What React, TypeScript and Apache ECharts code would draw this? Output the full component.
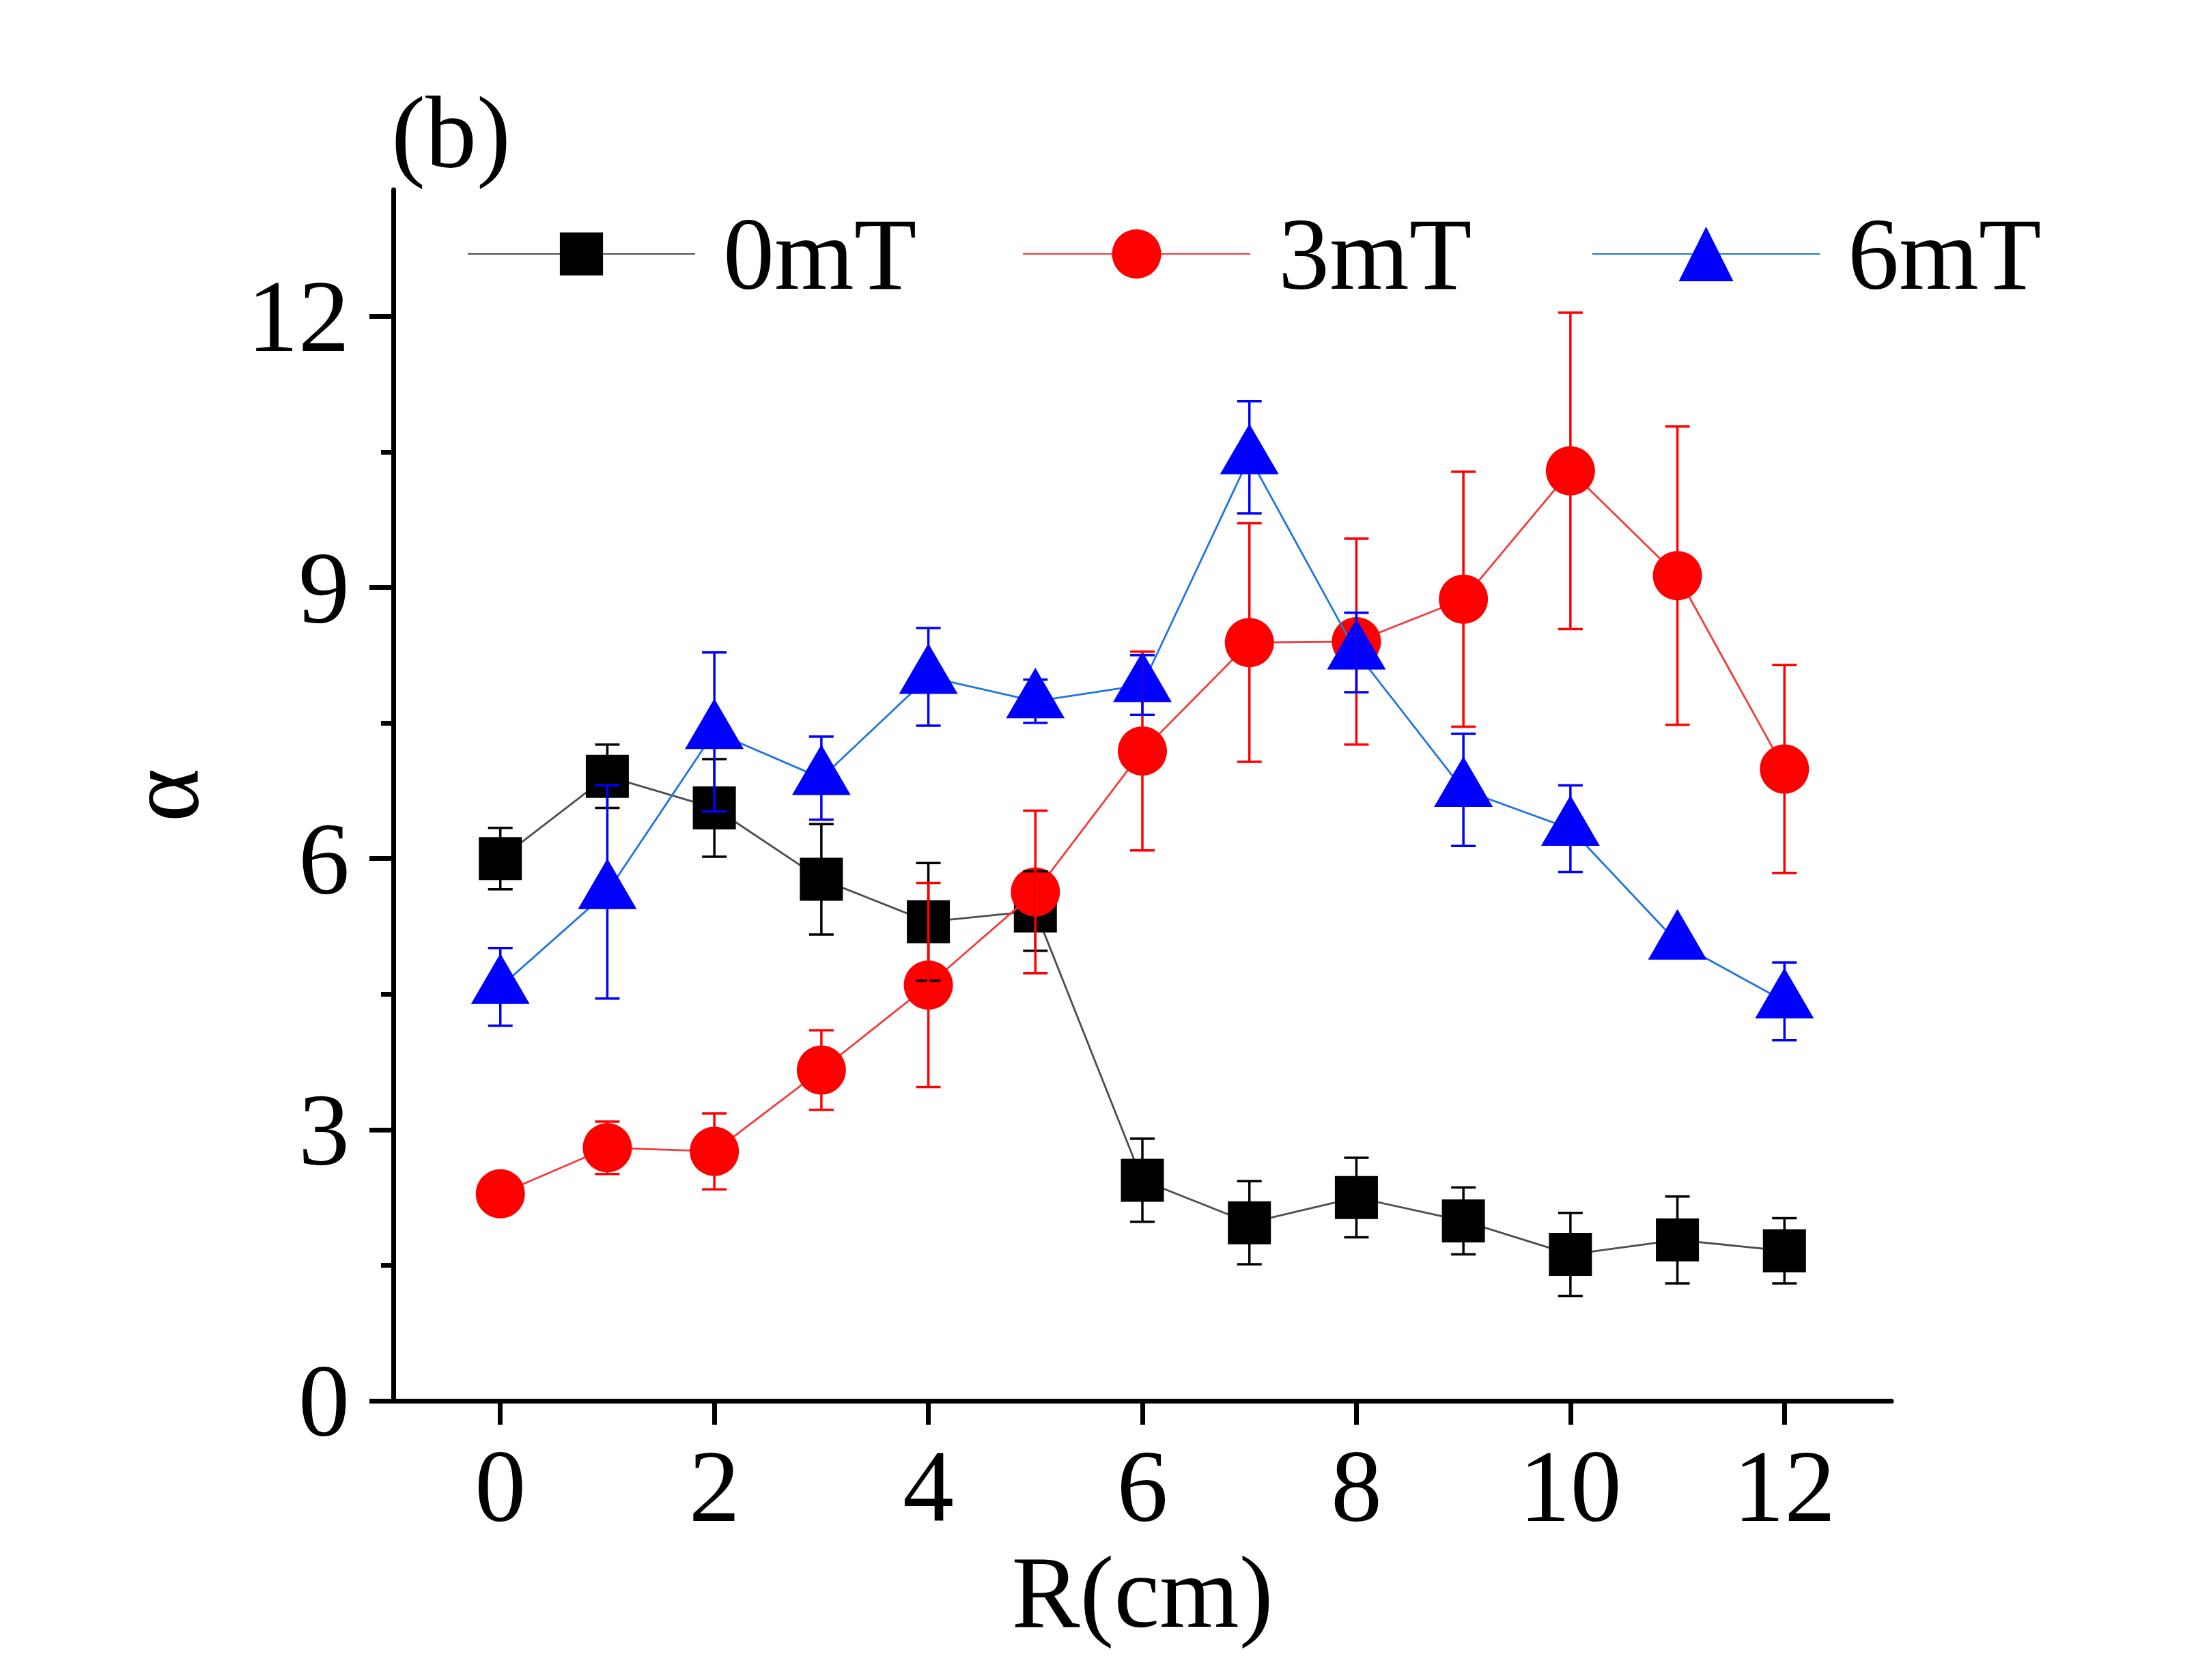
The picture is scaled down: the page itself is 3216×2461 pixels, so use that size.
import React, { useEffect, useRef } from "react";
import * as echarts from "echarts";

const R = [0, 1, 2, 3, 4, 5, 6, 7, 8, 9, 10, 11, 12];
const alpha0 = [6.0, 6.91, 6.56, 5.77, 5.3, 5.42, 2.44, 1.97, 2.25, 1.99, 1.62, 1.78, 1.66];
const err0 = [0.34, 0.35, 0.54, 0.61, 0.65, 0.44, 0.46, 0.46, 0.44, 0.37, 0.46, 0.48, 0.36];
const alpha3 = [2.29, 2.8, 2.76, 3.66, 4.6, 5.63, 7.19, 8.39, 8.4, 8.87, 10.29, 9.13, 6.99];
const err3 = [0, 0.29, 0.42, 0.44, 1.13, 0.9, 1.1, 1.32, 1.14, 1.41, 1.75, 1.65, 1.15];
const alpha6 = [4.58, 5.63, 7.4, 6.89, 8.01, 7.74, 7.92, 10.44, 8.28, 6.76, 6.33, 5.07, 4.42];
const err6 = [0.43, 1.18, 0.88, 0.46, 0.54, 0.24, 0.33, 0.62, 0.44, 0.62, 0.48, 0, 0.43];

const names = ["0mT", "3mT", "6mT"];
const xTicks = [0, 2, 4, 6, 8, 10, 12];
const yTicks = [0, 3, 6, 9, 12];

const FONT = "'Liberation Serif', 'Times New Roman', serif";

function errSeries(name: string, values: number[], errs: number[], color: string) {
  return {
    type: "custom",
    name,
    z: 10,
    silent: true,
    encode: { x: 0, y: 1 },
    data: R.map((x, i) => [x, values[i], errs[i]]),
    renderItem: (params: any, api: any) => {
      const x = api.value(0);
      const y = api.value(1);
      const e = api.value(2);
      if (!e) return { type: "group", children: [] };
      const top = api.coord([x, y + e]);
      const bot = api.coord([x, y - e]);
      const hw = 18;
      const style = { stroke: color, lineWidth: 3.5 };
      return {
        type: "group",
        children: [
          { type: "line", shape: { x1: top[0], y1: top[1], x2: bot[0], y2: bot[1] }, style },
          { type: "line", shape: { x1: top[0] - hw, y1: top[1], x2: top[0] + hw, y2: top[1] }, style },
          { type: "line", shape: { x1: bot[0] - hw, y1: bot[1], x2: bot[0] + hw, y2: bot[1] }, style },
        ],
      };
    },
  };
}

export default function App() {
  const ref = useRef<HTMLDivElement>(null);
  useEffect(() => {
    if (!ref.current) return;
    const chart = echarts.init(ref.current, null, { renderer: "svg" });
    const legendBase = {
      top: 297,
      padding: 0,
      itemWidth: 333,
      textStyle: { fontSize: 150, fontFamily: FONT, color: "#000", padding: [0, 0, 0, 36] },
    };
    chart.setOption({
      animation: false,
      backgroundColor: "#fff",
      grid: { left: 576, right: 3216 - 2770, top: 278, bottom: 2461 - 2052 },
      legend: [
        { ...legendBase, left: 684, itemHeight: 79, data: [names[0]] },
        { ...legendBase, left: 1497, itemHeight: 90, data: [names[1]] },
        { ...legendBase, left: 2331, itemHeight: 100, data: [names[2]] },
      ],
      graphic: [
        {
          type: "text",
          left: 573,
          top: 119,
          style: { text: "(b)", font: `150px ${FONT}`, fill: "#000" },
        },
      ],
      xAxis: {
        type: "value",
        min: -1,
        max: 13,
        interval: 2,
        name: "R(cm)",
        nameLocation: "middle",
        nameGap: 201,
        nameTextStyle: { fontSize: 150, fontFamily: FONT, color: "#000" },
        axisLine: { show: true, onZero: false, lineStyle: { color: "#000", width: 7 } },
        axisTick: { show: true, length: 35, customValues: xTicks, lineStyle: { color: "#000", width: 7 } },
        minorTick: { show: true, splitNumber: 2, length: 18, lineStyle: { color: "#000", width: 7 } },
        axisLabel: { customValues: xTicks, fontSize: 150, fontFamily: FONT, color: "#000", margin: 50 },
        splitLine: { show: false },
      },
      yAxis: {
        type: "value",
        min: 0,
        max: 13.4,
        interval: 3,
        name: "α",
        nameLocation: "middle",
        nameRotate: 90,
        nameGap: 262,
        nameTextStyle: { fontSize: 150, fontFamily: FONT, color: "#000" },
        axisLine: { show: true, onZero: false, lineStyle: { color: "#000", width: 7 } },
        axisTick: { show: true, length: 35, customValues: yTicks, lineStyle: { color: "#000", width: 7 } },
        minorTick: { show: true, splitNumber: 2, length: 18, lineStyle: { color: "#000", width: 7 } },
        axisLabel: { customValues: yTicks, fontSize: 150, fontFamily: FONT, color: "#000", margin: 64 },
        splitLine: { show: false },
      },
      series: [
        {
          type: "line",
          name: names[0],
          data: R.map((x, i) => [x, alpha0[i]]),
          symbol: "rect",
          symbolSize: 63,
          itemStyle: { color: "#000000" },
          lineStyle: { color: "#4d4d4d", width: 2.8 },
          z: 3,
        },
        {
          type: "line",
          name: names[1],
          data: R.map((x, i) => [x, alpha3[i]]),
          symbol: "circle",
          symbolSize: 72,
          itemStyle: { color: "#ff0000" },
          lineStyle: { color: "#f03c3c", width: 2.8 },
          z: 4,
        },
        {
          type: "line",
          name: names[2],
          data: R.map((x, i) => [x, alpha6[i]]),
          symbol: "triangle",
          symbolSize: [86, 74],
          symbolOffset: [0, -12],
          itemStyle: { color: "#0000ff" },
          lineStyle: { color: "#1f74e0", width: 2.8 },
          z: 5,
        },
        errSeries("0mT error", alpha0, err0, "#000000"),
        errSeries("3mT error", alpha3, err3, "#ff0000"),
        errSeries("6mT error", alpha6, err6, "#0000ff"),
      ],
    });
    return () => chart.dispose();
  }, []);
  return (
    <div
      ref={ref}
      style={{ position: "fixed", left: 0, top: 0, width: 3216, height: 2461 }}
    />
  );
}
